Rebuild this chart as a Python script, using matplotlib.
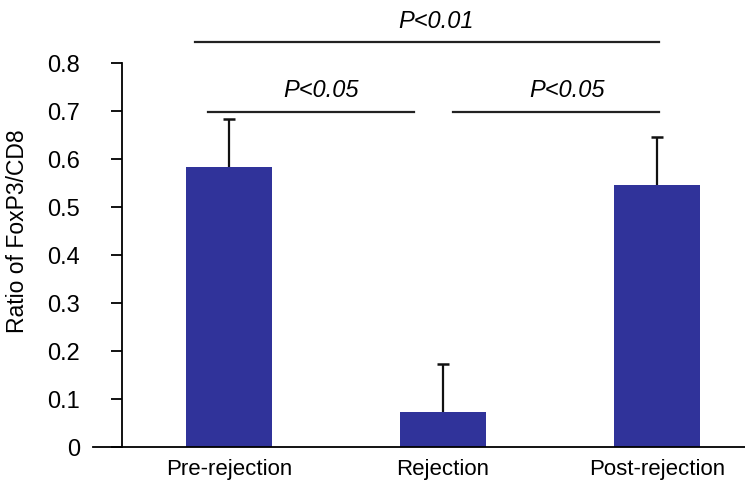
import matplotlib
matplotlib.use("Agg")
import matplotlib.pyplot as plt
import numpy as np

categories = ["Pre-rejection", "Rejection", "Post-rejection"]
values = [0.583, 0.073, 0.546]
errors = [0.100, 0.100, 0.100]
yticks = [0, 0.1, 0.2, 0.3, 0.4, 0.5, 0.6, 0.7, 0.8]
ytick_labels = ["0", "0.1", "0.2", "0.3", "0.4", "0.5", "0.6", "0.7", "0.8"]
sig_labels = ["P<0.01", "P<0.05", "P<0.05"]

plt.rcParams['font.family'] = ['Liberation Sans', 'DejaVu Sans']

fig = plt.figure(figsize=(7.45, 4.92), dpi=100)
ax = fig.add_axes([122/745, 45/492, 623/745, 427/492])

x = np.arange(len(categories))
vals = np.array(values)
errs = np.array(errors)
bar_color = '#30339a'
ax.bar(x, vals, width=0.40, color=bar_color, zorder=2)
ax.vlines(x, vals, vals + errs, color='#111111', lw=1.6, zorder=1)
ax.hlines(vals + errs, x - 0.03, x + 0.03, color='#111111', lw=1.8, zorder=1)

ax.set_xlim(-0.5, 2.411)
ax.set_ylim(0, 0.89)

for s in ['top', 'right', 'bottom']:
    ax.spines[s].set_visible(False)
ax.spines['left'].set_bounds(0, 0.8)
ax.spines['left'].set_linewidth(1.3)
ax.plot([-0.636, 2.411], [0, 0], color='black', lw=1.3, clip_on=False, zorder=3)

ax.set_yticks(yticks)
ax.set_yticklabels(ytick_labels, fontsize=17)
ax.tick_params(axis='y', direction='out', length=8, width=1.3, pad=22)
ax.set_xticks(x)
ax.set_xticklabels(categories, fontsize=16)
ax.tick_params(axis='x', length=0, pad=9)
ax.set_ylabel("Ratio of FoxP3/CD8", fontsize=16.5)
ax.yaxis.set_label_coords(-0.150, 0.506)

# significance lines
lw_sig = 1.6
ax.plot([-0.16, 2.01], [0.844, 0.844], color='#222222', lw=lw_sig, clip_on=False)
ax.plot([-0.10, 0.865], [0.698, 0.698], color='#222222', lw=lw_sig, clip_on=False)
ax.plot([1.047, 2.01], [0.698, 0.698], color='#222222', lw=lw_sig, clip_on=False)
ax.text(0.967, 0.8875, sig_labels[0], ha='center', va='center', fontsize=17, style='italic')
ax.text(0.43, 0.744, sig_labels[1], ha='center', va='center', fontsize=17, style='italic')
ax.text(1.58, 0.744, sig_labels[2], ha='center', va='center', fontsize=17, style='italic')

fig.savefig("out.png", dpi=100)
